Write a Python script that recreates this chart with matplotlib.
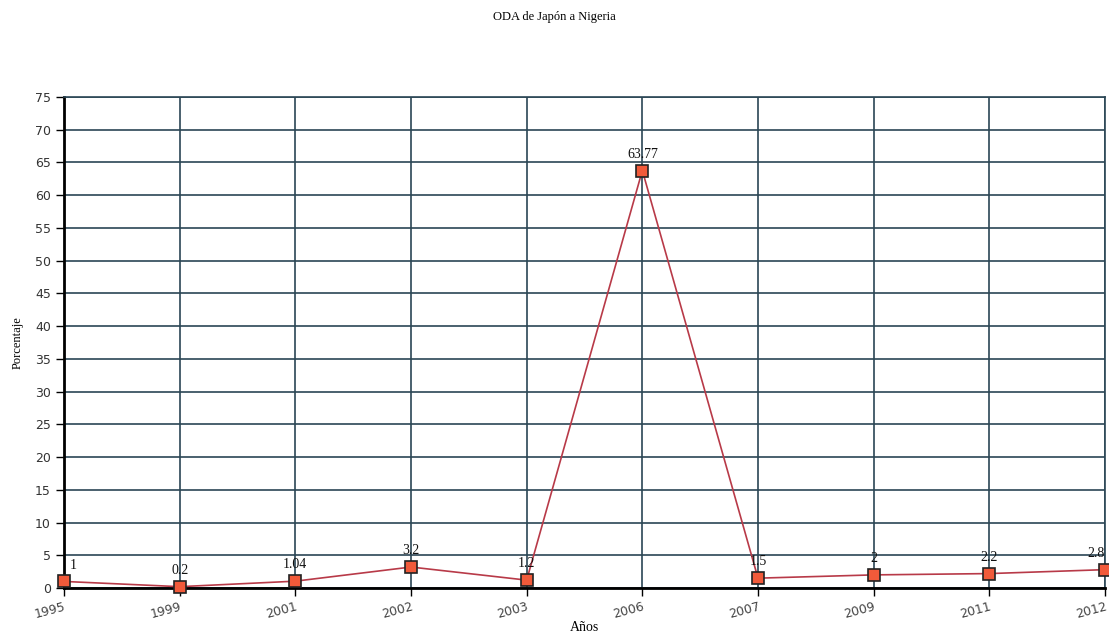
import matplotlib
matplotlib.use('Agg')
import matplotlib.pyplot as plt
import numpy as np

# data
years = ['1995', '1999', '2001', '2002', '2003', '2006', '2007', '2009', '2011', '2012']
values = [1, 0.2, 1.04, 3.2, 1.2, 63.77, 1.5, 2, 2.2, 2.8]
labels = ['1', '0.2', '1.04', '3.2', '1.2', '63.77', '1.5', '2', '2.2', '2.8']
yticks = list(range(0, 80, 5))

serif = 'Liberation Serif'
grid_color = '#2b4655'

fig = plt.figure(figsize=(11.09, 6.36), dpi=100)
ax = fig.add_axes([0.0577, 0.0755, 0.9387, 0.772])

x = np.arange(len(years))
ax.plot(x, values, color='#b83a48', linewidth=1.2, zorder=3)
ax.plot(x, values, linestyle='none', marker='s', markersize=9,
        markerfacecolor='#f15a3a', markeredgecolor='#222222', markeredgewidth=1.2,
        zorder=4, clip_on=False)

n = len(years)
for i, (xi, v, lab) in enumerate(zip(x, values, labels)):
    ha, dx = 'center', 0
    if i == 0:
        ha, dx = 'left', 4
    elif i == n - 1:
        ha, dx = 'right', 0
    ax.annotate(lab, (xi, v), xytext=(dx, 7), textcoords='offset points',
                ha=ha, va='bottom', fontsize=10, family=serif,
                color='#111111', zorder=5)

ax.set_xlim(0, n - 1)
ax.set_ylim(0, 75)
ax.set_xticks(x)
ax.set_xticklabels(years, rotation=15, ha='right', rotation_mode='anchor',
                   fontsize=9, color='#444444')
ax.set_yticks(yticks)
ax.set_yticklabels([str(t) for t in yticks], fontsize=9, color='#333333')

ax.grid(True, color=grid_color, linewidth=1.2)
ax.set_axisbelow(True)

for side in ('top', 'right'):
    ax.spines[side].set_color(grid_color)
    ax.spines[side].set_linewidth(1.2)
for side in ('left', 'bottom'):
    ax.spines[side].set_color('black')
    ax.spines[side].set_linewidth(2)

ax.tick_params(axis='both', direction='out', length=6, width=1, color='black')
ax.tick_params(axis='x', pad=3)

ax.set_xlabel('Años', fontsize=10, family=serif, labelpad=0)
ax.set_ylabel('Porcentaje', fontsize=9, family=serif, labelpad=8)
fig.text(0.5, 0.973, 'ODA de Japón a Nigeria', ha='center', va='center',
         fontsize=9, family=serif)

fig.savefig('out.png', dpi=100, facecolor='white')
